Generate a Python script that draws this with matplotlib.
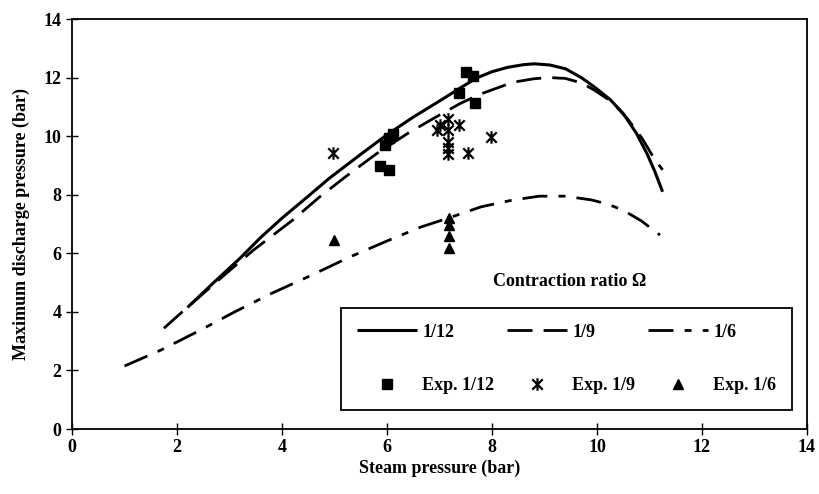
import matplotlib
matplotlib.use('Agg')
import matplotlib.pyplot as plt
from matplotlib.path import Path

# model curves
x_112 = [2.2, 2.7, 3.2, 3.6, 4.0, 4.5, 4.9, 5.5, 6.0, 6.5, 7.0, 7.4, 7.7, 8.0, 8.3, 8.6, 8.8, 9.1, 9.4, 9.7, 9.95, 10.25, 10.5, 10.75, 10.95, 11.1, 11.25]
y_112 = [4.15, 5.0, 5.83, 6.55, 7.2, 7.95, 8.56, 9.38, 10.05, 10.65, 11.2, 11.65, 11.98, 12.2, 12.35, 12.44, 12.47, 12.43, 12.3, 12.0, 11.68, 11.25, 10.77, 10.1, 9.41, 8.8, 8.1]

x_19 = [1.75, 2.1, 2.8, 3.45, 4.2, 4.7, 5.2, 5.8, 6.4, 6.9, 7.4, 7.8, 8.4, 8.8, 9.1, 9.4, 9.7, 9.95, 10.3, 10.6, 10.85, 11.1, 11.25]
y_19 = [3.44, 4.0, 5.1, 6.1, 7.13, 7.9, 8.6, 9.4, 10.1, 10.62, 11.12, 11.45, 11.84, 11.96, 12.0, 11.97, 11.82, 11.57, 11.15, 10.55, 9.95, 9.2, 8.85]

x_16 = [1.0, 1.7, 2.45, 3.1, 3.8, 4.5, 5.3, 6.0, 6.65, 7.15, 7.8, 8.4, 8.9, 9.4, 9.9, 10.2, 10.5, 10.85, 11.2]
y_16 = [2.15, 2.7, 3.38, 4.0, 4.63, 5.2, 5.88, 6.42, 6.9, 7.19, 7.59, 7.82, 7.95, 7.95, 7.82, 7.68, 7.47, 7.1, 6.62]

# experimental points
exp12_x = [7.5, 7.64, 7.38, 7.67, 6.12, 6.03, 5.96, 5.87, 6.03]
exp12_y = [12.18, 12.05, 11.46, 11.12, 10.09, 9.92, 9.69, 8.98, 8.86]

exp9_x = [4.97, 7.0, 6.95, 7.17, 7.38, 7.17, 7.17, 7.17, 7.17, 7.55, 7.98]
exp9_y = [9.41, 10.38, 10.2, 10.6, 10.38, 10.2, 9.8, 9.58, 9.4, 9.41, 9.98]

exp6_x = [4.99, 7.19, 7.19, 7.19, 7.19]
exp6_y = [6.47, 7.19, 6.96, 6.59, 6.17]

plt.rcParams['font.family'] = 'Liberation Serif'
plt.rcParams['font.weight'] = 'bold'

# excel style star: an x with a vertical bar
star = Path([(-1, -1), (1, 1), (-1, 1), (1, -1), (0, -1.2), (0, 1.2)],
            [Path.MOVETO, Path.LINETO, Path.MOVETO, Path.LINETO, Path.MOVETO, Path.LINETO])

fig = plt.figure(figsize=(8.19, 4.94), dpi=100)
ax = fig.add_axes([72 / 819, 65 / 494, 735 / 819, 410 / 494])

l12, = ax.plot(x_112, y_112, color='black', lw=2.2, solid_capstyle='butt', label='1/12')
l9, = ax.plot(x_19, y_19, color='black', lw=2.0, dashes=(9, 4), label='1/9')
l6, = ax.plot(x_16, y_16, color='black', lw=2.0, dashes=(9, 4, 2.5, 4), label='1/6')

m12, = ax.plot(exp12_x, exp12_y, ls='none', marker='s', ms=7, color='black', label='Exp. 1/12')
m9, = ax.plot(exp9_x, exp9_y, ls='none', marker=star, ms=9, mew=1.6, color='black', label='Exp. 1/9')
m6, = ax.plot(exp6_x, exp6_y, ls='none', marker='^', ms=7, color='black', label='Exp. 1/6')

ax.set_xlim(0, 14)
ax.set_ylim(0, 14)
ax.set_xticks(range(0, 15, 2))
ax.set_yticks(range(0, 15, 2))
ax.tick_params(direction='inout', length=8, width=1, labelsize=13)
for s in ax.spines.values():
    s.set_linewidth(1.3)

ax.set_xlabel('Steam pressure (bar)', fontsize=13, fontweight='bold', labelpad=2)
ax.set_ylabel('Maximum discharge pressure (bar)', fontsize=13, fontweight='bold', labelpad=10)

ax.text(8.02, 5.02, 'Contraction ratio \u03a9', fontsize=13, fontweight='bold', va='center')

leg = ax.legend([l12, m12, l9, m9, l6, m6],
                ['1/12', 'Exp. 1/12', '1/9', 'Exp. 1/9', '1/6', 'Exp. 1/6'],
                ncol=3, loc='lower left', bbox_to_anchor=(0.366, 0.046, 0.614, 0.256),
                mode='expand', borderaxespad=0, fancybox=False, edgecolor='black',
                framealpha=1, prop={'family': 'Liberation Serif', 'weight': 'bold', 'size': 13},
                handlelength=3.3, handletextpad=0.3, borderpad=0.9, labelspacing=2.0,
                columnspacing=2.0)
leg.get_frame().set_linewidth(1.3)

fig.savefig('out.png', dpi=100)
